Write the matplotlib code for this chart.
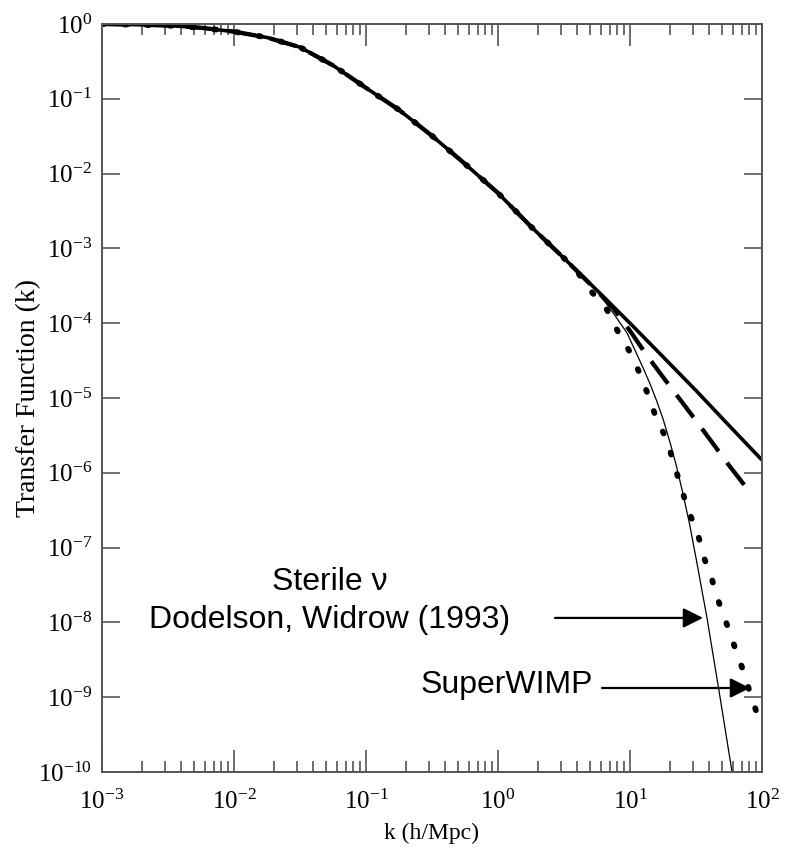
import matplotlib
matplotlib.use("Agg")
import matplotlib.pyplot as plt
import numpy as np

# ---- data (log-log) ----
# CDM (thick solid)
k_cdm = [1e-3, 1.78e-3, 3.16e-3, 5.62e-3, 1e-2, 1.78e-2, 3.16e-2, 5.62e-2, 0.1, 0.178,
         0.316, 0.562, 1.0, 1.78, 3.16, 5.62, 10.0, 17.8, 31.6, 56.2, 100.0]
T_cdm = [1.0, 0.98, 0.955, 0.89, 0.79, 0.66, 0.49, 0.28, 0.14, 0.071,
         0.032, 0.0135, 0.0055, 0.00195, 0.00074, 0.000275, 0.0001, 3.55e-5, 1.26e-5, 4.3e-6, 1.48e-6]

# dashed model
k_dash = [1e-3, 1.78e-3, 3.16e-3, 5.62e-3, 1e-2, 1.78e-2, 3.16e-2, 5.62e-2, 0.1, 0.178,
          0.316, 0.562, 1.0, 1.78, 3.16, 5.62, 7.5, 10.0, 13.3, 17.8, 31.6, 56.2, 81.0]
T_dash = [1.0, 0.98, 0.955, 0.89, 0.79, 0.66, 0.49, 0.28, 0.14, 0.071,
          0.032, 0.0135, 0.0055, 0.00195, 0.00074, 0.00027, 0.000158, 7.9e-5, 3.8e-5, 1.9e-5, 5.0e-6, 1.26e-6, 5.5e-7]

# SuperWIMP (dotted)
k_sw = [1e-3, 1.78e-3, 3.16e-3, 5.62e-3, 1e-2, 1.78e-2, 3.16e-2, 5.62e-2, 0.1, 0.178,
        0.316, 0.562, 1.0, 1.78, 3.16, 4.04, 5.15, 6.7, 7.98, 10.0, 11.9, 13.7, 15.8, 19.0,
        24.3, 27.5, 32.4, 36.3, 41.7, 47.3, 54.3, 62.4, 71.8, 81.1, 93.3]
T_sw = [1.0, 0.98, 0.955, 0.89, 0.79, 0.66, 0.49, 0.28, 0.14, 0.071,
        0.032, 0.0135, 0.0055, 0.00195, 0.00074, 0.00047, 0.00026, 0.000151, 8.1e-5, 4.1e-5, 2.1e-5,
        1.1e-5, 5.4e-6, 2.75e-6, 6.5e-7, 3.2e-7, 1.6e-7, 7.4e-8, 3.8e-8, 1.82e-8, 9.3e-9,
        4.6e-9, 2.3e-9, 1.15e-9, 5.5e-10]

# Sterile neutrino (thin solid)
k_st = [1e-3, 1.78e-3, 3.16e-3, 5.62e-3, 1e-2, 1.78e-2, 3.16e-2, 5.62e-2, 0.1, 0.178,
        0.316, 0.562, 1.0, 1.78, 3.16, 5.62, 7.5, 9.5, 12.6, 14.1, 15.8, 17.8, 20.0, 22.4,
        25.1, 28.2, 32.0, 38.3, 48.1, 59.3]
T_st = [1.0, 0.98, 0.955, 0.89, 0.79, 0.66, 0.49, 0.28, 0.14, 0.071,
        0.032, 0.0135, 0.0055, 0.00195, 0.00074, 0.00027, 0.000135, 7.4e-5, 2.5e-5, 1.58e-5,
        9.5e-6, 5.25e-6, 2.63e-6, 1.26e-6, 5.4e-7, 2.1e-7, 6.5e-8, 1.15e-8, 1.0e-9, 1.0e-10]

xticks = [1e-3, 1e-2, 1e-1, 1e0, 1e1, 1e2]
yticks = [10.0**e for e in range(-10, 1)]

plt.rcParams['font.family'] = ['Liberation Serif', 'DejaVu Serif']
plt.rcParams['mathtext.fontset'] = 'custom'
plt.rcParams['mathtext.rm'] = 'Liberation Serif'

fig = plt.figure(figsize=(7.88, 8.49), dpi=100)
ax = fig.add_axes([102/788, 77/849, 660/788, 748/849])

ax.plot(k_cdm, T_cdm, color='black', lw=2.6, solid_capstyle='butt')
ax.plot(k_st, T_st, color='black', lw=0.9)
ax.plot(k_dash, T_dash, color='black', lw=3.1, linestyle=(0, (6.5, 3.3)), dash_capstyle='butt')
ax.plot(k_sw, T_sw, color='black', lw=4.2, linestyle=(0, (0.35, 3.5)), dash_capstyle='round')

ax.set_xscale('log')
ax.set_yscale('log')
ax.set_xlim(1e-3, 1e2)
ax.set_ylim(1e-10, 1e0)
ax.set_xticks(xticks)
ax.set_yticks(yticks)
ax.yaxis.set_minor_locator(matplotlib.ticker.NullLocator())
ax.xaxis.set_minor_locator(matplotlib.ticker.LogLocator(base=10, subs=np.arange(2, 10)))
ax.xaxis.set_minor_formatter(matplotlib.ticker.NullFormatter())

spine_c = '#555555'
for s in ax.spines.values():
    s.set_color(spine_c)
    s.set_linewidth(1.4)
ax.tick_params(axis='x', which='major', direction='in', length=16, width=1.2, color=spine_c,
               top=True, bottom=True, labelsize=18, pad=13)
ax.tick_params(axis='x', which='minor', direction='in', length=8, width=1.2, color=spine_c,
               top=True, bottom=True)
ax.tick_params(axis='y', which='major', direction='in', length=13, width=1.2, color=spine_c,
               left=True, right=True, labelsize=18, pad=7)

ax.set_xlabel('k (h/Mpc)', fontsize=17, labelpad=6)
ax.set_ylabel('Transfer Function (k)', fontsize=20, labelpad=-2)

sans = ['Liberation Sans', 'DejaVu Sans']
ax.text(0.345, 0.254, 'Sterile \u03bd', transform=ax.transAxes, ha='center', va='center',
        fontsize=23, family=sans)
ax.text(0.345, 0.203, 'Dodelson, Widrow (1993)', transform=ax.transAxes, ha='center', va='center',
        fontsize=23, family=sans)
ax.text(0.482, 0.116, 'SuperWIMP', transform=ax.transAxes, ha='left', va='center',
        fontsize=23, family=sans)

arrow = dict(arrowstyle='-|>', color='black', lw=1.6, mutation_scale=30, shrinkA=0, shrinkB=0)
ax.annotate('', xy=(10**1.553, 10**-7.94), xytext=(10**0.432, 10**-7.94), arrowprops=arrow)
ax.annotate('', xy=(10**1.909, 10**-8.877), xytext=(10**0.788, 10**-8.877), arrowprops=arrow)

fig.savefig('out.png', dpi=100)
